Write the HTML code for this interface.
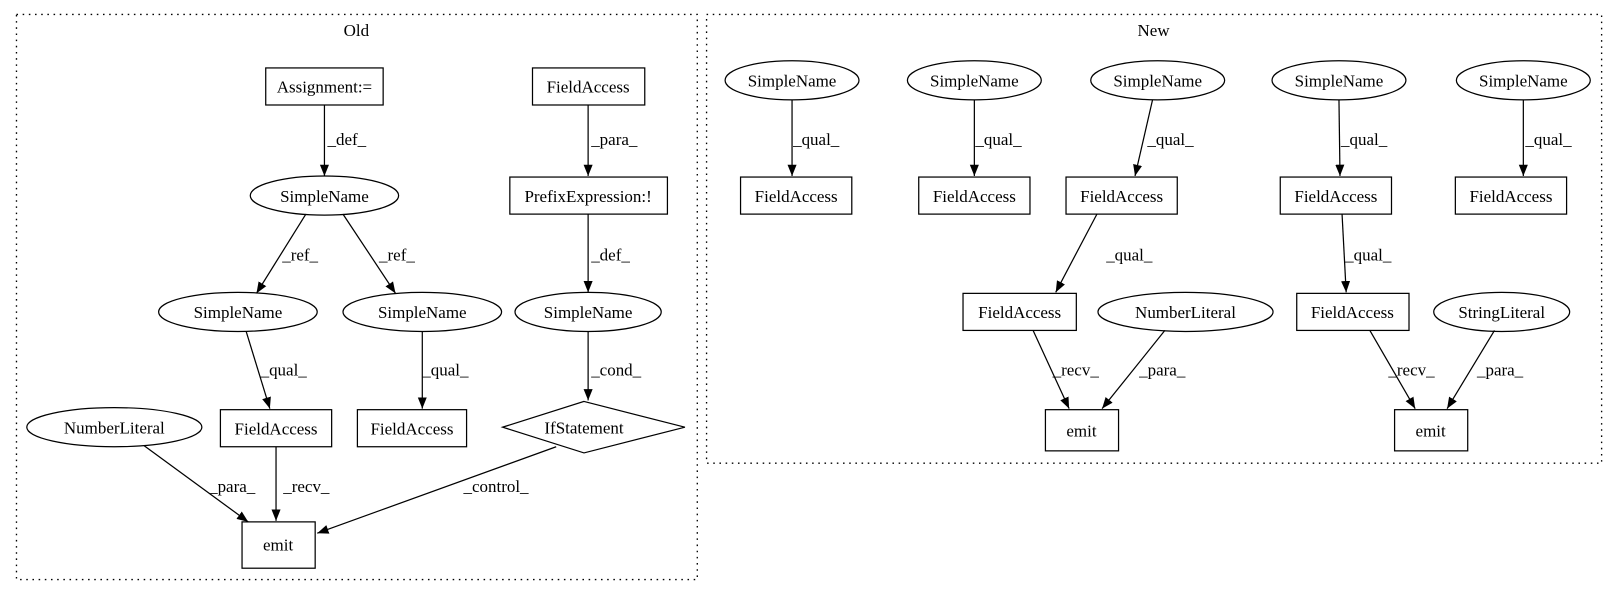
<!DOCTYPE html>
<html><head><meta charset="utf-8"><style>html,body{margin:0;padding:0;background:#fff}svg{display:block}</style></head>
<body>
<svg width="1615" height="596" viewBox="0 0 1568 579" preserveAspectRatio="none" xmlns="http://www.w3.org/2000/svg" font-family="Liberation Serif, serif" font-size="16.5">
<defs><marker id="a" viewBox="0 0 10 10" refX="10" refY="5" markerWidth="11" markerHeight="11" markerUnits="userSpaceOnUse" orient="auto"><path d="M0,1L10,5L0,9z" fill="#000"/></marker></defs>
<g fill="none" stroke="#000" stroke-dasharray="1.5,4.5" stroke-width="1.3">
<rect x="16" y="14" width="661" height="549"/>
<rect x="686" y="14" width="869" height="436"/>
</g>
<g text-anchor="middle" fill="#000">
<text x="346" y="35">Old</text><text x="1120" y="35">New</text>
</g>
<g fill="#fff" stroke="#000" stroke-width="1.2">
<rect x="258" y="66" width="114" height="36"/>
<rect x="517" y="66" width="109" height="36"/>
<ellipse cx="315" cy="190" rx="72" ry="19"/>
<rect x="495" y="172" width="153" height="36"/>
<ellipse cx="571" cy="303" rx="71" ry="19"/>
<ellipse cx="231" cy="303" rx="77" ry="19"/>
<ellipse cx="410" cy="303" rx="77" ry="19"/>
<rect x="214" y="398" width="108" height="36"/>
<rect x="347" y="398" width="106" height="36"/>
<ellipse cx="111" cy="415" rx="85" ry="19"/>
<polygon points="567,390 665,415 567,440 488,415"/>
<rect x="235" y="507" width="71" height="45"/>
<ellipse cx="769" cy="78" rx="65" ry="19"/>
<ellipse cx="946" cy="78" rx="65" ry="19"/>
<ellipse cx="1124" cy="78" rx="65" ry="19"/>
<ellipse cx="1300" cy="78" rx="65" ry="19"/>
<ellipse cx="1479" cy="78" rx="65" ry="19"/>
<rect x="719" y="172" width="108" height="36"/>
<rect x="892" y="172" width="108" height="36"/>
<rect x="1035" y="172" width="108" height="36"/>
<rect x="1243" y="172" width="108" height="36"/>
<rect x="1413" y="172" width="108" height="36"/>
<rect x="935" y="285" width="110" height="36"/>
<ellipse cx="1151" cy="303" rx="85" ry="19"/>
<rect x="1259" y="285" width="109" height="36"/>
<ellipse cx="1458" cy="303" rx="66" ry="19"/>
<rect x="1015" y="398" width="71" height="40"/>
<rect x="1354" y="398" width="71" height="40"/>
</g>
<g text-anchor="middle" fill="#000">
<text x="315" y="90">Assignment:=</text>
<text x="571" y="90">FieldAccess</text>
<text x="315" y="196">SimpleName</text>
<text x="571" y="196">PrefixExpression:!</text>
<text x="571" y="309">SimpleName</text>
<text x="231" y="309">SimpleName</text>
<text x="410" y="309">SimpleName</text>
<text x="268" y="422">FieldAccess</text>
<text x="400" y="422">FieldAccess</text>
<text x="111" y="421">NumberLiteral</text>
<text x="567" y="421">IfStatement</text>
<text x="270" y="535">emit</text>
<text x="769" y="84">SimpleName</text>
<text x="946" y="84">SimpleName</text>
<text x="1124" y="84">SimpleName</text>
<text x="1300" y="84">SimpleName</text>
<text x="1479" y="84">SimpleName</text>
<text x="773" y="196">FieldAccess</text>
<text x="946" y="196">FieldAccess</text>
<text x="1089" y="196">FieldAccess</text>
<text x="1297" y="196">FieldAccess</text>
<text x="1467" y="196">FieldAccess</text>
<text x="990" y="309">FieldAccess</text>
<text x="1151" y="309">NumberLiteral</text>
<text x="1313" y="309">FieldAccess</text>
<text x="1458" y="309">StringLiteral</text>
<text x="1050" y="424">emit</text>
<text x="1389" y="424">emit</text>
</g>
<g stroke="#000" stroke-width="1.2" marker-end="url(#a)" fill="none">
<path d="M315,102V171"/>
<path d="M571,102V171"/>
<path d="M297,208L249,285"/>
<path d="M333,208L384,285"/>
<path d="M571,208V284"/>
<path d="M239,322L262,397"/>
<path d="M410,322V397"/>
<path d="M571,322V389"/>
<path d="M140,433L241,507"/>
<path d="M268,434V506"/>
<path d="M540,434L308,518"/>
<path d="M769,97V171"/>
<path d="M946,97V171"/>
<path d="M1119,97L1102,171"/>
<path d="M1300,97L1301,171"/>
<path d="M1479,97V171"/>
<path d="M1065,208L1025,284"/>
<path d="M1303,208L1307,284"/>
<path d="M1003,321L1038,397"/>
<path d="M1131,321L1070,397"/>
<path d="M1330,321L1374,397"/>
<path d="M1451,321L1405,397"/>
</g>
<g fill="#000">
<text x="318" y="141">_def_</text>
<text x="574" y="141">_para_</text>
<text x="274" y="253">_ref_</text>
<text x="368" y="253">_ref_</text>
<text x="574" y="253">_def_</text>
<text x="253" y="365">_qual_</text>
<text x="410" y="365">_qual_</text>
<text x="574" y="365">_cond_</text>
<text x="203" y="478">_para_</text>
<text x="275" y="478">_recv_</text>
<text x="450" y="478">_control_</text>
<text x="770" y="141">_qual_</text>
<text x="947" y="141">_qual_</text>
<text x="1114" y="141">_qual_</text>
<text x="1302" y="141">_qual_</text>
<text x="1481" y="141">_qual_</text>
<text x="1074" y="253">_qual_</text>
<text x="1306" y="253">_qual_</text>
<text x="1022" y="365">_recv_</text>
<text x="1106" y="365">_para_</text>
<text x="1348" y="365">_recv_</text>
<text x="1434" y="365">_para_</text>
</g>
</svg>
</body></html>
